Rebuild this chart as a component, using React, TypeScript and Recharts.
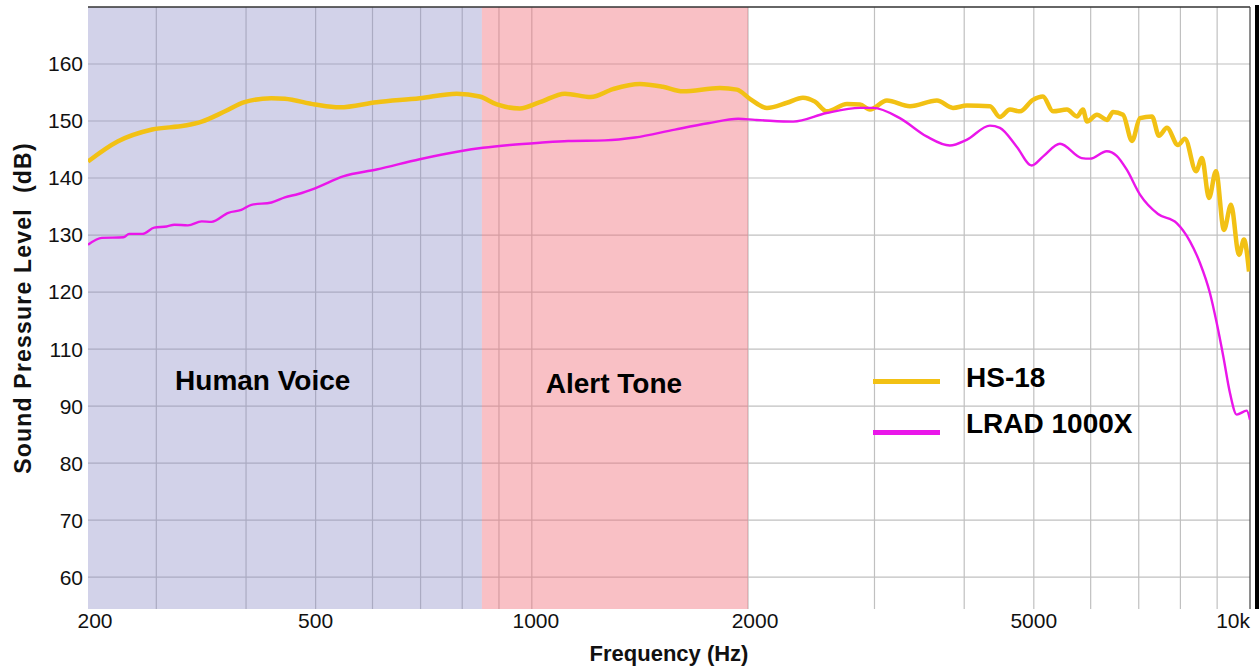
import {
  CartesianGrid,
  Label,
  Line,
  LineChart,
  ReferenceArea,
  ReferenceDot,
  ReferenceLine,
  XAxis,
  YAxis,
} from "recharts";

// HS-18 response (Hz, dB)
const HS18_FREQ = [
  241, 265, 296, 329, 347, 374, 398, 434, 453, 499, 540, 608, 698, 786, 846, 894, 962, 1026, 1112, 1208,
  1297, 1414, 1522, 1623, 1827, 1930, 2012, 2125, 2266, 2385, 2479, 2576, 2747, 2863, 2957, 3122, 3361, 3665,
  3858, 4035, 4344, 4485, 4632, 4783, 4986, 5149, 5317, 5561, 5742, 5853, 5929, 6122, 6322, 6446, 6656, 6851,
  7028, 7303, 7469, 7662, 7937, 8118, 8411, 8573, 8768, 8966, 9199, 9409, 9654, 9808, 9968,
];
const HS18_DB = [
  142.9, 146.4, 148.5, 149.2, 149.9, 151.7, 153.3, 154.0, 153.9, 152.9, 152.4, 153.3, 154.0, 154.8, 154.3,
  152.9, 152.2, 153.3, 154.8, 154.2, 155.6, 156.5, 156.0, 155.2, 155.8, 155.5, 153.9, 152.3, 153.2, 154.1,
  153.4, 151.7, 153.0, 152.9, 152.0, 153.6, 152.6, 153.6, 152.3, 152.7, 152.6, 150.7, 152.0, 151.7, 153.7,
  154.3, 151.7, 152.0, 150.8, 152.0, 149.9, 151.1, 150.2, 151.6, 151.1, 146.5, 150.5, 150.8, 147.4, 148.8,
  145.8, 146.9, 141.2, 143.5, 136.5, 141.2, 130.9, 135.3, 126.5, 129.2, 123.6,
];

// LRAD 1000X response
const LRAD_FREQ = [
  241, 252, 270, 275, 287, 298, 310, 318, 332, 347, 358, 378, 394, 407, 434, 453, 473, 499, 546, 608, 698,
  794, 855, 932, 1026, 1124, 1264, 1392, 1582, 1760, 1938, 2045, 2111, 2312, 2573, 2863, 2988, 3254, 3545,
  3820, 4031, 4344, 4485, 4733, 4966, 5153, 5438, 5830, 5988, 6317, 6522, 6733, 7028, 7446, 7906, 8249,
  8518, 8796, 8987, 9180, 9378, 9583, 9895, 10000,
];
const LRAD_DB = [
  128.3, 129.5, 129.6, 130.2, 130.2, 131.3, 131.5, 131.8, 131.7, 132.4, 132.3, 133.9, 134.4, 135.3, 135.7,
  136.6, 137.2, 138.2, 140.3, 141.5, 143.3, 144.7, 145.3, 145.8, 146.2, 146.5, 146.6, 147.1, 148.5, 149.6,
  150.4, 150.2, 150.1, 149.9, 151.4, 152.3, 152.3, 150.5, 147.3, 145.7, 146.7, 149.2, 148.8, 145.5, 142.2,
  143.8, 146.0, 143.5, 143.4, 144.7, 143.9, 141.5, 137.1, 133.7, 132.1, 128.9, 125.1, 119.8, 114.6, 108.7,
  102.3, 98.5, 99.2, 97.6,
];

// axes
const X_MIN = 241;
const X_MAX = 10000;
const X_TICKS = [241, 500, 1000, 2000, 5000, 10000];
const X_TICK_LABELS = ["200", "500", "1000", "2000", "5000", "10k"];
const X_GRID = [300, 400, 500, 600, 700, 800, 900, 1000, 2000, 3000, 4000, 5000, 6000, 7000, 8000, 9000];
const Y_MIN = 64.4;
const Y_MAX = 170;
const Y_TICKS = [160, 150, 140, 130, 120, 110, 100, 90, 80, 70];
// the picture skips "100" on the axis
const Y_TICK_LABELS = ["160", "150", "140", "130", "120", "110", "90", "80", "70", "60"];

// shaded bands
const BANDS = [
  { name: "Human Voice", from: 241, to: 852, fill: "#8a8ac4", opacity: 0.38, labelF: 422, labelDb: 104.6 },
  { name: "Alert Tone", from: 852, to: 2000, fill: "#f06e78", opacity: 0.43, labelF: 1301, labelDb: 104.1 },
];

const SERIES = [
  { name: "HS-18", color: "#f2c114", width: 4.5, data: HS18_FREQ.map((f, i) => ({ f, db: HS18_DB[i] })) },
  { name: "LRAD 1000X", color: "#ea16ea", width: 2.4, data: LRAD_FREQ.map((f, i) => ({ f, db: LRAD_DB[i] })) },
];

const FONT = "'Liberation Sans', Arial, sans-serif";

function FreqTick({ x, y, payload }: { x?: number; y?: number; payload?: { value: number } }) {
  const i = X_TICKS.indexOf(payload?.value ?? -1);
  if (i < 0) return null;
  const last = i === X_TICKS.length - 1;
  const dx = i === 0 ? 7 : i === 2 ? 4 : i === 3 ? 7 : 0;
  return (
    <text
      x={(x ?? 0) + dx}
      y={y}
      dy="0.71em"
      textAnchor={last ? "end" : "middle"}
      fill="#111"
      fontSize={21}
      fontFamily={FONT}
    >
      {X_TICK_LABELS[i]}
    </text>
  );
}

// legend rows: text sits a little above the sample line in the original
const LEGEND_TEXT_SHIFT = [-3, -8];

function Legend() {
  return (
    <div style={{ position: "absolute", left: 873, top: 361, fontFamily: FONT }}>
      {SERIES.map((s, i) => (
        <div key={s.name} style={{ display: "flex", alignItems: "center", height: 40, marginBottom: 11 }}>
          <div style={{ width: 67, height: 5, background: s.color }} />
          <div
            style={{
              marginLeft: 26,
              fontSize: 28,
              fontWeight: 700,
              color: "#000",
              position: "relative",
              top: LEGEND_TEXT_SHIFT[i],
            }}
          >
            {s.name}
          </div>
        </div>
      ))}
    </div>
  );
}

export default function App() {
  return (
    <div style={{ position: "absolute", left: 0, top: 0, width: 1259, height: 671, background: "#fff" }}>
      <LineChart width={1259} height={671} margin={{ top: 7, right: 9, bottom: 0, left: 0 }}>
        <CartesianGrid stroke="#c0c0c0" strokeWidth={1.2} verticalValues={X_GRID} horizontalValues={Y_TICKS} />
        {BANDS.map((b) => (
          <ReferenceArea
            key={b.name}
            x1={b.from}
            x2={b.to}
            y1={Y_MIN}
            y2={Y_MAX}
            fill={b.fill}
            fillOpacity={b.opacity}
            stroke="none"
          />
        ))}
        <XAxis
          type="number"
          dataKey="f"
          scale="log"
          domain={[X_MIN, X_MAX]}
          allowDataOverflow
          ticks={X_TICKS}
          interval={0}
          axisLine={false}
          tickLine={false}
          tickSize={0}
          tickMargin={4}
          height={62}
          tick={<FreqTick />}
        >
          <Label
            value="Frequency (Hz)"
            position="insideBottom"
            offset={10}
            fill="#111"
            fontSize={22}
            fontWeight={700}
            fontFamily={FONT}
          />
        </XAxis>
        <YAxis
          type="number"
          domain={[Y_MIN, Y_MAX]}
          allowDataOverflow
          ticks={Y_TICKS}
          interval={0}
          width={88}
          axisLine={false}
          tickLine={false}
          tickSize={0}
          tickMargin={5}
          tickFormatter={(v: number) => Y_TICK_LABELS[Y_TICKS.indexOf(v)] ?? ""}
          tick={{ fill: "#111", fontSize: 21, fontFamily: FONT }}
        >
          <Label
            value={"Sound Pressure Level\u00a0\u00a0(dB)"}
            angle={-90}
            position="insideLeft"
            offset={23}
            fill="#111"
            fontSize={23}
            fontWeight={700}
            fontFamily={FONT}
            letterSpacing={1.2}
            style={{ textAnchor: "middle" }}
          />
        </YAxis>
        <ReferenceLine y={Y_MAX} stroke="#333" strokeWidth={1.5} />
        <ReferenceLine x={X_MAX} stroke="#444" strokeWidth={1.2} />
        {BANDS.map((b) => (
          <ReferenceDot
            key={b.name + "-label"}
            x={b.labelF}
            y={b.labelDb}
            r={0}
            stroke="none"
            label={{ value: b.name, position: "center", fill: "#000", fontSize: 28, fontWeight: 700, fontFamily: FONT }}
          />
        ))}
        {SERIES.map((s) => (
          <Line
            key={s.name}
            data={s.data}
            dataKey="db"
            name={s.name}
            type="monotone"
            stroke={s.color}
            strokeWidth={s.width}
            dot={false}
            activeDot={false}
            isAnimationActive={false}
          />
        ))}
      </LineChart>
      <div style={{ position: "absolute", left: 1255, top: 5, width: 4, height: 604, background: "#000" }} />
      <Legend />
    </div>
  );
}
